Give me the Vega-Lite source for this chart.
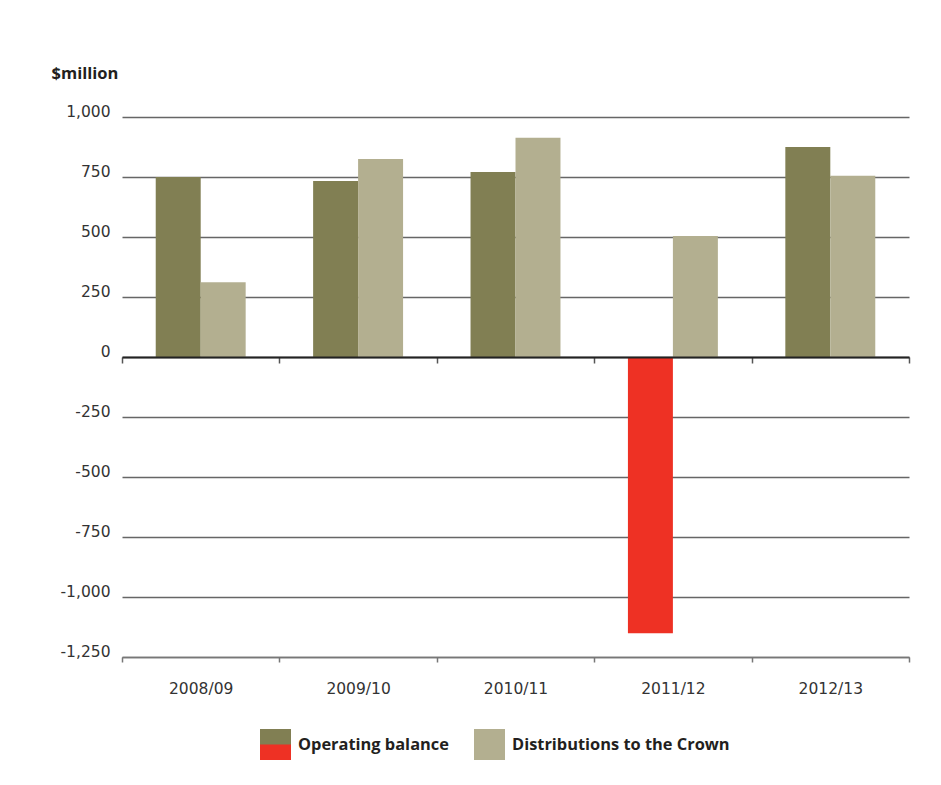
{
  "$schema": "https://vega.github.io/schema/vega-lite/v6.json",
  "width": 787,
  "height": 540,
  "autosize": {"type": "none"},
  "padding": {"left": 122, "top": 117, "right": 32, "bottom": 128},
  "config": {
    "font": "Open Sans",
    "view": {"stroke": null},
    "legend": {
      "title": null,
      "orient": "none",
      "legendX": 138,
      "legendY": 612,
      "direction": "horizontal",
      "symbolSize": 961,
      "symbolStrokeWidth": 0,
      "symbolOpacity": 1,
      "labelFont": "Open Sans",
      "labelFontSize": 16.4,
      "labelFontWeight": "bold",
      "labelColor": "#231f20",
      "labelOffset": 7,
      "labelLimit": 400,
      "columnPadding": 25
    }
  },
  "data": {
    "values": [
      {"year": "2008/09", "series": "Operating balance", "value": 750},
      {"year": "2008/09", "series": "Distributions to the Crown", "value": 311},
      {"year": "2009/10", "series": "Operating balance", "value": 733},
      {"year": "2009/10", "series": "Distributions to the Crown", "value": 825},
      {"year": "2010/11", "series": "Operating balance", "value": 771},
      {"year": "2010/11", "series": "Distributions to the Crown", "value": 914},
      {"year": "2011/12", "series": "Operating balance", "value": -1151},
      {"year": "2011/12", "series": "Distributions to the Crown", "value": 504},
      {"year": "2012/13", "series": "Operating balance", "value": 875},
      {"year": "2012/13", "series": "Distributions to the Crown", "value": 755}
    ]
  },
  "layer": [
    {
      "mark": {"type": "bar"},
      "encoding": {
        "x": {
          "field": "year",
          "type": "nominal",
          "sort": null,
          "scale": {"paddingInner": 0, "paddingOuter": 0},
          "axis": {
            "orient": "bottom",
            "title": null,
            "labelAngle": 0,
            "labelFont": "DejaVu Sans",
            "labelFontSize": 15.5,
            "labelColor": "#333333",
            "labelBaseline": "alphabetic",
            "labelPadding": 31,
            "domainColor": "#777777",
            "domainWidth": 1.5,
            "tickColor": "#777777",
            "tickWidth": 1.5,
            "tickSize": 5,
            "tickBand": "extent",
            "grid": false
          }
        },
        "xOffset": {
          "field": "series",
          "type": "nominal",
          "sort": ["Operating balance", "Distributions to the Crown"],
          "scale": {"paddingInner": 0, "paddingOuter": 0.75}
        },
        "y": {
          "field": "value",
          "type": "quantitative",
          "scale": {"domain": [-1250, 1000], "nice": false, "zero": false},
          "axis": {
            "title": "$million",
            "titleAngle": 0,
            "titleAlign": "left",
            "titleBaseline": "alphabetic",
            "titleX": -71,
            "titleY": -39,
            "titleFont": "Open Sans",
            "titleFontSize": 16.5,
            "titleFontWeight": "bold",
            "titleColor": "#231f20",
            "values": [-1250, -1000, -750, -500, -250, 0, 250, 500, 750, 1000],
            "labelExpr": "replace(format(datum.value, ','), '\u2212', '-')",
            "labelFont": "DejaVu Sans",
            "labelFontSize": 15.5,
            "labelColor": "#333333",
            "labelBaseline": "alphabetic",
            "labelOffset": -1,
            "labelPadding": 12,
            "ticks": false,
            "domain": false,
            "grid": true,
            "gridColor": "#666666",
            "gridWidth": 1.5
          }
        },
        "color": {
          "condition": {"test": "datum.value < 0", "value": "#ee3124"},
          "field": "series",
          "type": "nominal",
          "scale": {
            "domain": ["Operating balance", "Distributions to the Crown"],
            "range": ["#817f53", "#b3af90"]
          },
          "legend": {"symbolType": "square"}
        }
      }
    },
    {
      "mark": {"type": "point", "opacity": 0},
      "encoding": {
        "x": {
          "field": "year",
          "type": "nominal",
          "sort": null,
          "axis": {
            "orient": "bottom",
            "offset": -300,
            "title": null,
            "labels": false,
            "grid": false,
            "domainColor": "#222222",
            "domainWidth": 2,
            "tickColor": "#555555",
            "tickWidth": 1.5,
            "tickSize": 6,
            "tickBand": "extent",
            "zindex": 1
          }
        },
        "y": {"datum": 0, "type": "quantitative"}
      }
    },
    {
      "transform": [{"filter": "datum.value > 5000"}],
      "mark": {"type": "square", "filled": true},
      "encoding": {
        "x": {"field": "year", "type": "nominal", "sort": null, "axis": null},
        "y": {"field": "value", "type": "quantitative"},
        "fill": {
          "field": "series",
          "type": "nominal",
          "scale": {
            "domain": ["Distributions to the Crown", "Operating balance"],
            "range": ["#b3af90", "#ee3124"]
          },
          "legend": {
            "values": ["Operating balance", "Distributions to the Crown"],
            "symbolType": "M-1,0H1V1H-1Z",
            "labelOpacity": 0,
            "zindex": 2
          }
        }
      }
    }
  ],
  "resolve": {"axis": {"x": "independent"}}
}
